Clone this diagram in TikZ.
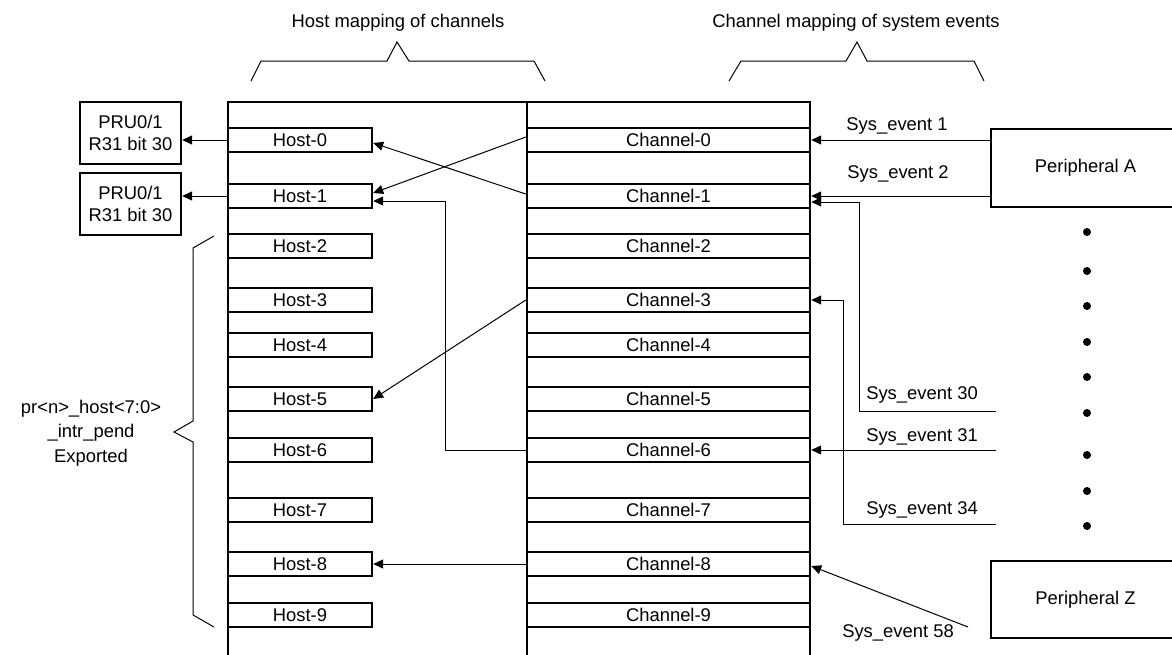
\documentclass[tikz,border=0pt]{standalone}
\usepackage{fontspec}
\setmainfont{Liberation Sans}
\usetikzlibrary{arrows.meta}
\begin{document}
\begin{tikzpicture}[x=0.5pt,y=-0.5pt,
  every node/.style={font=\fontsize{9.2}{11}\selectfont},
  box/.style={draw,line width=1.2pt,inner sep=0pt},
  hostbox/.style={box,minimum width=72pt,minimum height=12pt},
  chanbox/.style={box,minimum width=141.5pt,minimum height=12pt},
  prubox/.style={box,align=center,minimum width=50.5pt,minimum height=31pt},
  periph/.style={box,minimum width=94.5pt},
  frame/.style={line width=1.2pt},
  conn/.style={line width=0.5pt},
  arr/.style={conn,-{Triangle[length=5pt,width=4.5pt]}},
  lbl/.style={inner sep=0pt},
  dotmark/.style={fill=black},
]
\useasboundingbox (0,0) rectangle (1172,654);
\clip (0,0) rectangle (1172,654);

% frame
\draw[frame] (228,660) -- (228,102) -- (810,102) -- (810,660);
\draw[frame] (527,103) -- (527,660);

% rows
\foreach \i/\y in {0/140,1/196,2/246,3/300,4/345,5/399,6/450,7/510,8/564,9/615}{
  \node[hostbox] (h\i) at (300,\y) {Host-\i};
  \node[chanbox] (c\i) at (668.5,\y) {Channel-\i};
}

% titles and braces
\node[lbl] (t1) at (398,23) {Host mapping of channels};
\node[lbl] (t2) at (856,23) {Channel mapping of system events};
\draw[conn] (251,81) -- (261,61) -- (387,61) -- (397,42) -- (409,61) -- (534,61) -- (545,81);
\draw[conn] (729,81) -- (741,61) -- (846,61) -- (857,42) -- (867,61) -- (974,61) -- (984,81);
\draw[conn] (214,236) -- (193,248) -- (193,421) -- (174,432) -- (193,442) -- (193,615) -- (214,627);

% PRU boxes
\node[prubox] (p0) at (130.5,133) {PRU0/1\\R31 bit 30};
\node[prubox] (p1) at (130.5,204) {PRU0/1\\R31 bit 30};

% exported label
\node[lbl,align=center,font=\fontsize{9.2}{12.25}\selectfont] (exp) at (91,433)
  {pr<n>\_host<7:0>\\\_intr\_pend\\Exported};

% peripherals
\node[periph,minimum height=39pt] (pa) at (1085.5,168) {Peripheral A};
\node[periph,minimum height=38.5pt] (pz) at (1085.5,599.5) {Peripheral Z};

% dots
\foreach \y in {232,271,306,342,377,413,455,491,526}
  \fill[dotmark] (1087,\y) circle[radius=4];

% host -> PRU
\draw[arr] (h0.west) -- (h0.west -| p0.east);
\draw[arr] (h1.west) -- (h1.west -| p1.east);

% channel -> host
\draw[arr] ([yshift=1.5pt]c0.west) -- ([yshift=1.5pt]h1.east);
\draw[arr] ([yshift=1pt]c1.west) -- ([yshift=-1.5pt]h0.east);
\coordinate (k6) at (445,450);
\draw[arr] (c6.west) -- (k6) |- ([yshift=-2.5pt]h1.east);
\draw[arr] (c3.west) -- (h5.east);
\draw[arr] (c8.west) -- (h8.east);

% system events -> channel
\draw[arr] (pa.west |- c0.east) -- (c0.east);
\draw[arr] (pa.west |- c1.east) -- (c1.east);
\coordinate (e30) at (996,411);
\coordinate (k30) at (859,411);
\draw[arr] (e30) -- (k30) |- ([yshift=-3pt]c1.east);
\coordinate (e31) at (996,450);
\draw[arr] (e31) -- (c6.east);
\coordinate (e34) at (996,524);
\coordinate (k34) at (843,524);
\draw[arr] (e34) -- (k34) |- (c3.east);
\coordinate (e58) at (968,627);
\draw[arr] (e58) -- ([yshift=-1pt]c8.east);

% event labels
\node[lbl] (l1) at (897,126) {Sys\_event 1};
\node[lbl] (l2) at (898,174) {Sys\_event 2};
\node[lbl] (l30) at (922,395) {Sys\_event 30};
\node[lbl] (l31) at (922,436.5) {Sys\_event 31};
\node[lbl] (l34) at (922,509.5) {Sys\_event 34};
\node[lbl] (l58) at (898,632.5) {Sys\_event 58};
\end{tikzpicture}
\end{document}
